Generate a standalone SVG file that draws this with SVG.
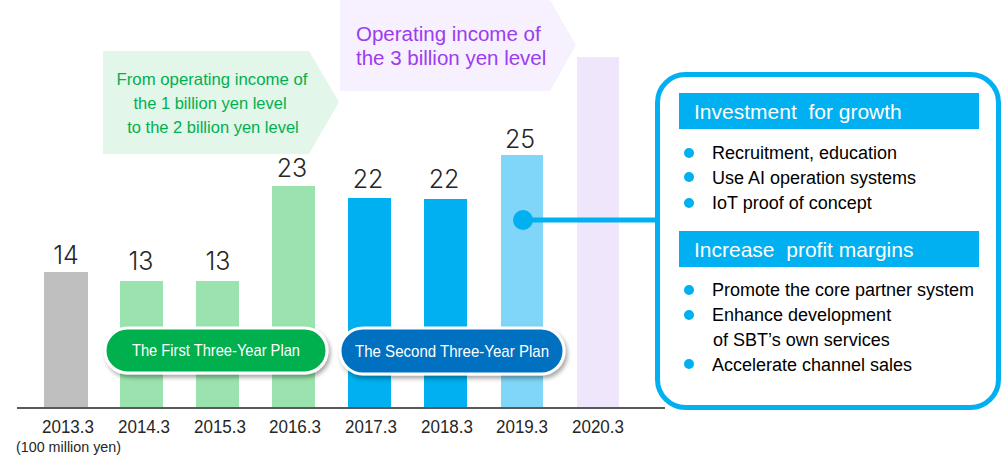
<svg xmlns="http://www.w3.org/2000/svg" width="1003" height="465" viewBox="0 0 1003 465">
<defs>
<style>
.val{font-family:Inter,"Liberation Sans",Arial,sans-serif;font-weight:300;font-size:25px;fill:#262626;text-anchor:middle}
.yr{font-family:"Liberation Sans",Arial,sans-serif;font-size:18px;fill:#262626;text-anchor:middle}
.gt{font-family:"Liberation Sans",Arial,sans-serif;font-size:16.5px;fill:#00b050;text-anchor:middle}
.pt{font-family:"Liberation Sans",Arial,sans-serif;font-size:20.5px;fill:#9b3cf0}
.pill{font-family:"Liberation Sans",Arial,sans-serif;font-size:17px;fill:#fff;text-anchor:middle}
.hd{font-family:"Liberation Sans",Arial,sans-serif;font-size:21px;fill:#fff;white-space:pre}
.bt{font-family:"Liberation Sans",Arial,sans-serif;font-size:18px;fill:#000;white-space:pre}
.dot{fill:#00b0f0}
</style>
<filter id="sh" x="-10%" y="-30%" width="125%" height="170%">
<feDropShadow dx="2" dy="3" stdDeviation="2" flood-color="#000" flood-opacity="0.35"/>
</filter>
</defs>
<rect width="1003" height="465" fill="#fff"/>

<g id="banner-green">
<polygon points="103,51 309,51 339,102 309,154 103,154" fill="#e2f6e9"/>
<text class="gt" x="212" y="85" textLength="191" lengthAdjust="spacingAndGlyphs">From operating income of</text>
<text class="gt" x="210" y="109">the 1 billion yen level</text>
<text class="gt" x="213" y="133">to the 2 billion yen level</text>
</g>

<g id="banner-purple">
<polygon points="340,0 550,0 576,45 550,91 340,91" fill="#f7f0fe"/>
<text class="pt" x="356" y="41">Operating income of</text>
<text class="pt" x="356" y="65">the 3 billion yen level</text>
</g>

<g id="bars">
<g id="bar-2013"><rect x="44" y="272" width="44" height="136" fill="#bfbfbf"/><text class="val" x="66" y="264">14</text><text class="yr" x="68" y="433" textLength="52" lengthAdjust="spacingAndGlyphs">2013.3</text></g>
<g id="bar-2014"><rect x="120" y="281" width="43" height="127" fill="#9be3ae"/><text class="val" x="141" y="270">13</text><text class="yr" x="144" y="433" textLength="52" lengthAdjust="spacingAndGlyphs">2014.3</text></g>
<g id="bar-2015"><rect x="196" y="281" width="43" height="127" fill="#9be3ae"/><text class="val" x="218" y="270">13</text><text class="yr" x="220" y="433" textLength="52" lengthAdjust="spacingAndGlyphs">2015.3</text></g>
<g id="bar-2016"><rect x="272" y="186" width="43" height="222" fill="#9be3ae"/><text class="val" x="292" y="177">23</text><text class="yr" x="295" y="433" textLength="52" lengthAdjust="spacingAndGlyphs">2016.3</text></g>
<g id="bar-2017"><rect x="348" y="198" width="43" height="210" fill="#00b0f0"/><text class="val" x="368" y="188">22</text><text class="yr" x="371" y="433" textLength="52" lengthAdjust="spacingAndGlyphs">2017.3</text></g>
<g id="bar-2018"><rect x="424" y="199" width="43" height="209" fill="#00b0f0"/><text class="val" x="444" y="188">22</text><text class="yr" x="447" y="433" textLength="52" lengthAdjust="spacingAndGlyphs">2018.3</text></g>
<g id="bar-2019"><rect x="501" y="155" width="42" height="253" fill="#7fd6f8"/><text class="val" x="520" y="148">25</text><text class="yr" x="522" y="433" textLength="52" lengthAdjust="spacingAndGlyphs">2019.3</text></g>
<g id="bar-2020"><rect x="577" y="57" width="42" height="351" fill="#efe6fb"/><text class="yr" x="598" y="433" textLength="52" lengthAdjust="spacingAndGlyphs">2020.3</text></g>
</g>

<g id="axis">
<line x1="17" y1="408" x2="665" y2="408" stroke="#595959" stroke-width="2"/>
<text x="16" y="452" font-family="Liberation Sans, Arial, sans-serif" font-size="14" fill="#262626" textLength="105" lengthAdjust="spacingAndGlyphs">(100 million yen)</text>
</g>

<g id="plan-first">
<rect x="105" y="328" width="222" height="45" rx="22.5" fill="#00b050" stroke="#fff" stroke-width="3" filter="url(#sh)"/>
<text class="pill" x="216" y="356" textLength="168" lengthAdjust="spacingAndGlyphs">The First Three-Year Plan</text>
</g>

<g id="plan-second">
<rect x="340" y="328" width="224" height="46" rx="23" fill="#0070c0" stroke="#fff" stroke-width="3" filter="url(#sh)"/>
<text class="pill" x="452" y="357" textLength="194" lengthAdjust="spacingAndGlyphs">The Second Three-Year Plan</text>
</g>

<g id="connectors">
<line x1="523" y1="220" x2="658" y2="220" stroke="#00b0f0" stroke-width="5"/>
<circle cx="523" cy="220" r="10" fill="#00b0f0"/>
</g>

<g id="box">
<rect x="657.5" y="74.5" width="341" height="333" rx="28" fill="#fff" stroke="#00b0f0" stroke-width="5"/>
<rect x="679" y="93" width="300" height="36" fill="#00b0f0"/>
<text class="hd" x="694" y="119">Investment  for growth</text>
<circle class="dot" cx="689" cy="153" r="5"/>
<circle class="dot" cx="689" cy="177" r="5"/>
<circle class="dot" cx="689" cy="203" r="5"/>
<text class="bt" x="712" y="159">Recruitment, education</text>
<text class="bt" x="712" y="184">Use AI operation systems</text>
<text class="bt" x="712" y="209">IoT proof of concept</text>
<rect x="679" y="231" width="300" height="36" fill="#00b0f0"/>
<text class="hd" x="694" y="257">Increase  profit margins</text>
<circle class="dot" cx="689" cy="290" r="5"/>
<circle class="dot" cx="689" cy="315" r="5"/>
<circle class="dot" cx="689" cy="364" r="5"/>
<text class="bt" x="712" y="296">Promote the core partner system</text>
<text class="bt" x="712" y="321">Enhance development</text>
<text class="bt" x="713" y="346">of SBT’s own services</text>
<text class="bt" x="712" y="371">Accelerate channel sales</text>
</g>
</svg>
